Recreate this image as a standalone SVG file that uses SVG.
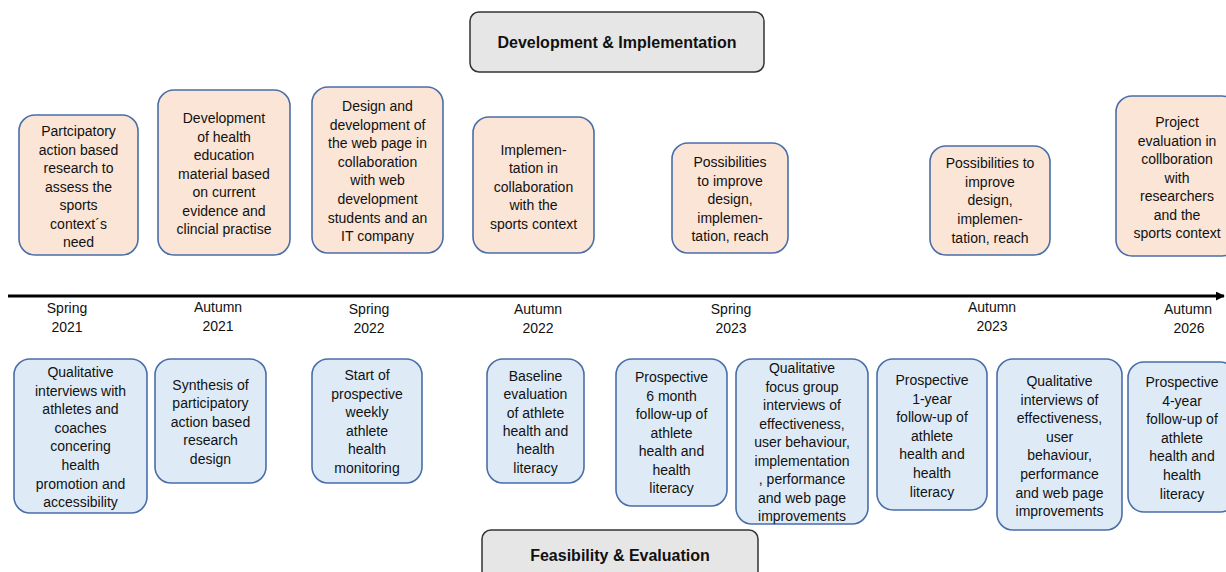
<svg xmlns="http://www.w3.org/2000/svg" width="1226" height="572" viewBox="0 0 1226 572">
<defs>
<style>
text{font-family:"Liberation Sans",Arial,sans-serif;font-size:14px;fill:#111;text-anchor:middle}
.hdr{font-weight:bold;font-size:16px}
.phase{fill:#e7e6e6;stroke:#333;stroke-width:1.5}
.top{fill:#fbe5d6;stroke:#4a6ea8;stroke-width:1.6}
.bot{fill:#deebf7;stroke:#4a6ea8;stroke-width:1.6}
.axis{stroke:#000;stroke-width:3;fill:none}
</style>
<marker id="arr" viewBox="0 0 10 10" refX="9" refY="5" markerWidth="3" markerHeight="3" orient="auto" markerUnits="strokeWidth">
<path d="M0,0 L10,5 L0,10 z" fill="#000"/>
</marker>
</defs>
<rect width="1226" height="572" fill="#fff"/>

<g id="phase-dev">
<rect class="phase" x="470" y="12" width="294" height="60" rx="9"/>
<text class="hdr" x="617" y="48">Development &amp; Implementation</text>
</g>
<g id="phase-feas">
<rect class="phase" x="482" y="530" width="276" height="60" rx="9"/>
<text class="hdr" x="620" y="561">Feasibility &amp; Evaluation</text>
</g>

<g id="connectors">
<line class="axis" x1="8" y1="296" x2="1224" y2="296" marker-end="url(#arr)"/>
</g>

<g id="timeline-labels">
<text x="67" y="313">Spring<tspan x="67" dy="19">2021</tspan></text>
<text x="218" y="312">Autumn<tspan x="218" dy="19">2021</tspan></text>
<text x="369" y="314">Spring<tspan x="369" dy="19">2022</tspan></text>
<text x="538" y="314">Autumn<tspan x="538" dy="19">2022</tspan></text>
<text x="731" y="314">Spring<tspan x="731" dy="19">2023</tspan></text>
<text x="992" y="312">Autumn<tspan x="992" dy="19">2023</tspan></text>
<text x="1188" y="314">Autumn<tspan x="1189" dy="19">2026</tspan></text>
</g>

<g id="t1">
<rect class="top" x="19" y="115" width="119" height="140" rx="16"/>
<text x="78.5" y="136">Partcipatory<tspan x="78.5" dy="18.5">action based</tspan><tspan x="78.5" dy="18.5">research to</tspan><tspan x="78.5" dy="18.5">assess the</tspan><tspan x="78.5" dy="18.5">sports</tspan><tspan x="78.5" dy="18.5">context´s</tspan><tspan x="78.5" dy="18.5">need</tspan></text>
</g>
<g id="t2">
<rect class="top" x="158" y="90" width="132" height="165" rx="16"/>
<text x="224" y="123">Development<tspan x="224" dy="18.5">of health</tspan><tspan x="224" dy="18.5">education</tspan><tspan x="224" dy="18.5">material based</tspan><tspan x="224" dy="18.5">on current</tspan><tspan x="224" dy="18.5">evidence and</tspan><tspan x="224" dy="18.5">clincial practise</tspan></text>
</g>
<g id="t3">
<rect class="top" x="312" y="87" width="131" height="166" rx="16"/>
<text x="377.5" y="111">Design and<tspan x="377.5" dy="18.6">development of</tspan><tspan x="377.5" dy="18.6">the web page in</tspan><tspan x="377.5" dy="18.6">collaboration</tspan><tspan x="377.5" dy="18.6">with web</tspan><tspan x="377.5" dy="18.6">development</tspan><tspan x="377.5" dy="18.6">students and an</tspan><tspan x="377.5" dy="18.6">IT company</tspan></text>
</g>
<g id="t4">
<rect class="top" x="473" y="117" width="121" height="136" rx="16"/>
<text x="533.5" y="155">Implemen-<tspan x="533.5" dy="18.4">tation in</tspan><tspan x="533.5" dy="18.4">collaboration</tspan><tspan x="533.5" dy="18.4">with the</tspan><tspan x="533.5" dy="18.4">sports context</tspan></text>
</g>
<g id="t5">
<rect class="top" x="672" y="143" width="116" height="110" rx="16"/>
<text x="730" y="167">Possibilities<tspan x="730" dy="18.5">to improve</tspan><tspan x="730" dy="18.5">design,</tspan><tspan x="730" dy="18.5">implemen-</tspan><tspan x="730" dy="18.5">tation, reach</tspan></text>
</g>
<g id="t6">
<rect class="top" x="930" y="146" width="120" height="109" rx="16"/>
<text x="990" y="168">Possibilities to<tspan x="990" dy="18.7">improve</tspan><tspan x="990" dy="18.7">design,</tspan><tspan x="990" dy="18.7">implemen-</tspan><tspan x="990" dy="18.7">tation, reach</tspan></text>
</g>
<g id="t7">
<rect class="top" x="1116" y="96" width="122" height="160" rx="16"/>
<text x="1177" y="127">Project<tspan x="1177" dy="18.5">evaluation in</tspan><tspan x="1177" dy="18.5">collboration</tspan><tspan x="1177" dy="18.5">with</tspan><tspan x="1177" dy="18.5">researchers</tspan><tspan x="1177" dy="18.5">and the</tspan><tspan x="1177" dy="18.5">sports context</tspan></text>
</g>

<g id="b1">
<rect class="bot" x="14" y="359" width="133" height="154" rx="16"/>
<text x="80.5" y="377">Qualitative<tspan x="80.5" dy="18.6">interviews with</tspan><tspan x="80.5" dy="18.6">athletes and</tspan><tspan x="80.5" dy="18.6">coaches</tspan><tspan x="80.5" dy="18.6">concering</tspan><tspan x="80.5" dy="18.6">health</tspan><tspan x="80.5" dy="18.6">promotion and</tspan><tspan x="80.5" dy="18.6">accessibility</tspan></text>
</g>
<g id="b2">
<rect class="bot" x="155" y="359" width="111" height="124" rx="16"/>
<text x="210.5" y="390">Synthesis of<tspan x="210.5" dy="18.4">participatory</tspan><tspan x="210.5" dy="18.4">action based</tspan><tspan x="210.5" dy="18.4">research</tspan><tspan x="210.5" dy="18.4">design</tspan></text>
</g>
<g id="b3">
<rect class="bot" x="312" y="359" width="110" height="124" rx="16"/>
<text x="367" y="380">Start of<tspan x="367" dy="18.6">prospective</tspan><tspan x="367" dy="18.6">weekly</tspan><tspan x="367" dy="18.6">athlete</tspan><tspan x="367" dy="18.6">health</tspan><tspan x="367" dy="18.6">monitoring</tspan></text>
</g>
<g id="b4">
<rect class="bot" x="487" y="359" width="97" height="124" rx="16"/>
<text x="535.5" y="381">Baseline<tspan x="535.5" dy="18.3">evaluation</tspan><tspan x="535.5" dy="18.3">of athlete</tspan><tspan x="535.5" dy="18.3">health and</tspan><tspan x="535.5" dy="18.3">health</tspan><tspan x="535.5" dy="18.3">literacy</tspan></text>
</g>
<g id="b5">
<rect class="bot" x="616" y="359" width="111" height="147" rx="16"/>
<text x="671.5" y="382">Prospective<tspan x="671.5" dy="18.5">6 month</tspan><tspan x="671.5" dy="18.5">follow-up of</tspan><tspan x="671.5" dy="18.5">athlete</tspan><tspan x="671.5" dy="18.5">health and</tspan><tspan x="671.5" dy="18.5">health</tspan><tspan x="671.5" dy="18.5">literacy</tspan></text>
</g>
<g id="b6">
<rect class="bot" x="736" y="359" width="132" height="165" rx="16"/>
<text x="802" y="373">Qualitative<tspan x="802" dy="18.5">focus group</tspan><tspan x="802" dy="18.5">interviews of</tspan><tspan x="802" dy="18.5">effectiveness,</tspan><tspan x="802" dy="18.5">user behaviour,</tspan><tspan x="802" dy="18.5">implementation</tspan><tspan x="802" dy="18.5">, performance</tspan><tspan x="802" dy="18.5">and web page</tspan><tspan x="802" dy="18.5">improvements</tspan></text>
</g>
<g id="b7">
<rect class="bot" x="877" y="359" width="110" height="151" rx="16"/>
<text x="932" y="385">Prospective<tspan x="932" dy="18.6">1-year</tspan><tspan x="932" dy="18.6">follow-up of</tspan><tspan x="932" dy="18.6">athlete</tspan><tspan x="932" dy="18.6">health and</tspan><tspan x="932" dy="18.6">health</tspan><tspan x="932" dy="18.6">literacy</tspan></text>
</g>
<g id="b8">
<rect class="bot" x="997" y="359" width="125" height="171" rx="16"/>
<text x="1059.5" y="386">Qualitative<tspan x="1059.5" dy="18.6">interviews of</tspan><tspan x="1059.5" dy="18.6">effectiveness,</tspan><tspan x="1059.5" dy="18.6">user</tspan><tspan x="1059.5" dy="18.6">behaviour,</tspan><tspan x="1059.5" dy="18.6">performance</tspan><tspan x="1059.5" dy="18.6">and web page</tspan><tspan x="1059.5" dy="18.6">improvements</tspan></text>
</g>
<g id="b9">
<rect class="bot" x="1128" y="362" width="108" height="150" rx="16"/>
<text x="1182" y="387">Prospective<tspan x="1182" dy="18.6">4-year</tspan><tspan x="1182" dy="18.6">follow-up of</tspan><tspan x="1182" dy="18.6">athlete</tspan><tspan x="1182" dy="18.6">health and</tspan><tspan x="1182" dy="18.6">health</tspan><tspan x="1182" dy="18.6">literacy</tspan></text>
</g>
</svg>
